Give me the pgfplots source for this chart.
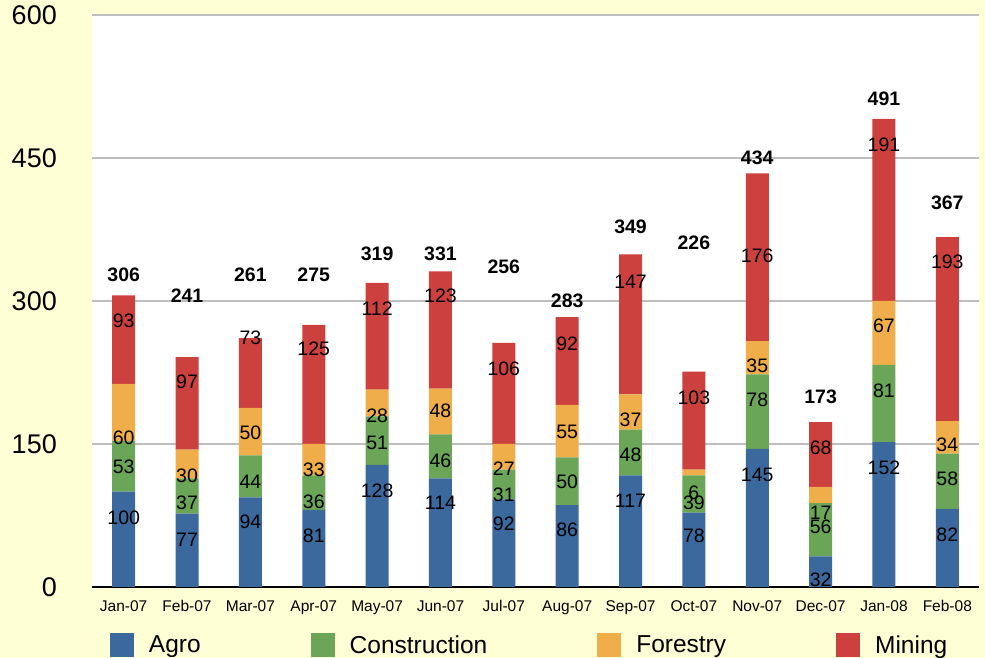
\documentclass[border=0pt]{standalone}
\usepackage{pgfplots}
\pgfplotsset{compat=1.18}
\usepackage{pgfplotstable}
\usepackage{fontspec}
\setmainfont{Liberation Sans}

\definecolor{bgyel}{RGB}{255,255,214}
\definecolor{cagro}{RGB}{60,105,157}
\definecolor{ccons}{RGB}{107,165,87}
\definecolor{cfore}{RGB}{239,174,73}
\definecolor{cmine}{RGB}{204,64,62}
\definecolor{gridg}{RGB}{190,190,190}

% monthly values per sector
\pgfplotstableread{
x  agro cons fore mine
0  100  53   60   93
1  77   37   30   97
2  94   44   50   73
3  81   36   33   125
4  128  51   28   112
5  114  46   48   123
6  92   31   27   106
7  86   50   55   92
8  117  48   37   147
9  78   39   6    103
10 145  78   35   176
11 32   56   17   68
12 152  81   67   191
13 82   58   34   193
}\bars

% where the segment labels sit (as drawn in the original)
\pgfplotstableread{
x  y     t
0  72.4  100
0  125.9 53
0  156.3 60
0  279.0 93
1  49.3  77
1  88.1  37
1  116.4 30
1  215.0 97
2  68.2  94
2  110.1 44
2  161.5 50
2  261.2 73
3  53.5  81
3  89.2  36
3  122.7 33
3  249.7 125
4  100.7 128
4  151.1 51
4  179.4 28
4  291.6 112
5  88.1  114
5  132.2 46
5  184.6 48
5  305.3 123
6  66.1  92
6  96.5  31
6  123.8 27
6  228.7 106
7  59.8  86
7  110.1 50
7  162.6 55
7  254.9 92
8  90.2  117
8  138.5 48
8  175.2 37
8  319.9 147
9  53.5  78
9  88.1  39
9  98.6  6
9  198.3 103
10 117.5 145
10 196.2 78
10 231.8 35
10 347.2 176
11 7.3   32
11 62.9  56
11 77.6  17
11 145.8 68
12 124.8 152
12 205.6 81
12 273.8 67
12 463.6 191
13 54.5  82
13 113.3 58
13 149.0 34
13 340.9 193
}\seglabels

\pgfplotstableread{
x  y     t
0  327.3 306
1  305.3 241
2  327.3 261
3  327.3 275
4  349.3 319
5  349.3 331
6  335.7 256
7  300.0 283
8  377.6 349
9  360.9 226
10 450.0 434
11 199.3 173
12 511.9 491
13 402.8 367
}\totals

\begin{document}
\begin{tikzpicture}[x=1pt,y=1pt]
\path[use as bounding box, fill=bgyel] (-92,-71) rectangle (893,587);

\begin{axis}[
  at={(0,0)}, anchor=south west,
  scale only axis, width=887pt, height=572pt,
  xmin=-0.5, xmax=13.5, ymin=0, ymax=600,
  ybar stacked, bar width=23pt,
  ytick={0,150,300,450,600},
  xtick={0,...,13},
  xticklabels={Jan-07,Feb-07,Mar-07,Apr-07,May-07,Jun-07,Jul-07,Aug-07,Sep-07,Oct-07,Nov-07,Dec-07,Jan-08,Feb-08},
  axis background/.style={fill=white},
  ymajorgrids, grid style={gridg, line width=1.5pt},
  axis x line*=bottom, axis y line*=left,
  y axis line style={draw=none},
  x axis line style={-, black, line width=1.6pt},
  major tick length=0pt,
  /pgf/number format/assume math mode=true,
  yticklabel style={font=\fontsize{27}{30}\selectfont, inner sep=0pt, xshift=-35pt},
  xticklabel style={font=\fontsize{15.5}{18}\selectfont, inner sep=0pt, anchor=base, yshift=-25pt},
  legend columns=4,
  legend style={draw=none, fill=none, inner sep=0pt, outer sep=0pt,
    at={(axis description cs:0.0203,-0.1014)}, anchor=west,
    font=\fontsize{24.5}{28}\selectfont,
    nodes={inner sep=0pt},
    /tikz/every odd column/.append style={column sep=15pt},
    /tikz/every even column/.append style={column sep=110pt}},
  legend image code/.code={\fill[#1] (0pt,-12pt) rectangle (24pt,12pt);},
]
\addplot[fill=cagro, draw=none] table[x=x, y=agro] {\bars};
\addplot[fill=ccons, draw=none] table[x=x, y=cons] {\bars};
\addplot[fill=cfore, draw=none] table[x=x, y=fore] {\bars};
\addplot[fill=cmine, draw=none] table[x=x, y=mine] {\bars};
\legend{Agro, Construction, Forestry, Mining}
\end{axis}

\begin{axis}[
  at={(0,0)}, anchor=south west,
  scale only axis, width=887pt, height=572pt,
  xmin=-0.5, xmax=13.5, ymin=0, ymax=600,
  hide axis, clip=false,
]
\addplot[only marks, mark=none, nodes near coords, point meta=explicit symbolic,
  nodes near coords style={anchor=center, inner sep=0pt, font=\fontsize{19.5}{22}\selectfont}]
  table[x=x, y=y, meta=t] {\seglabels};
\addplot[only marks, mark=none, nodes near coords, point meta=explicit symbolic,
  nodes near coords style={anchor=center, inner sep=0pt, font=\fontsize{19.5}{22}\selectfont\bfseries}]
  table[x=x, y=y, meta=t] {\totals};
\end{axis}
\end{tikzpicture}
\end{document}
